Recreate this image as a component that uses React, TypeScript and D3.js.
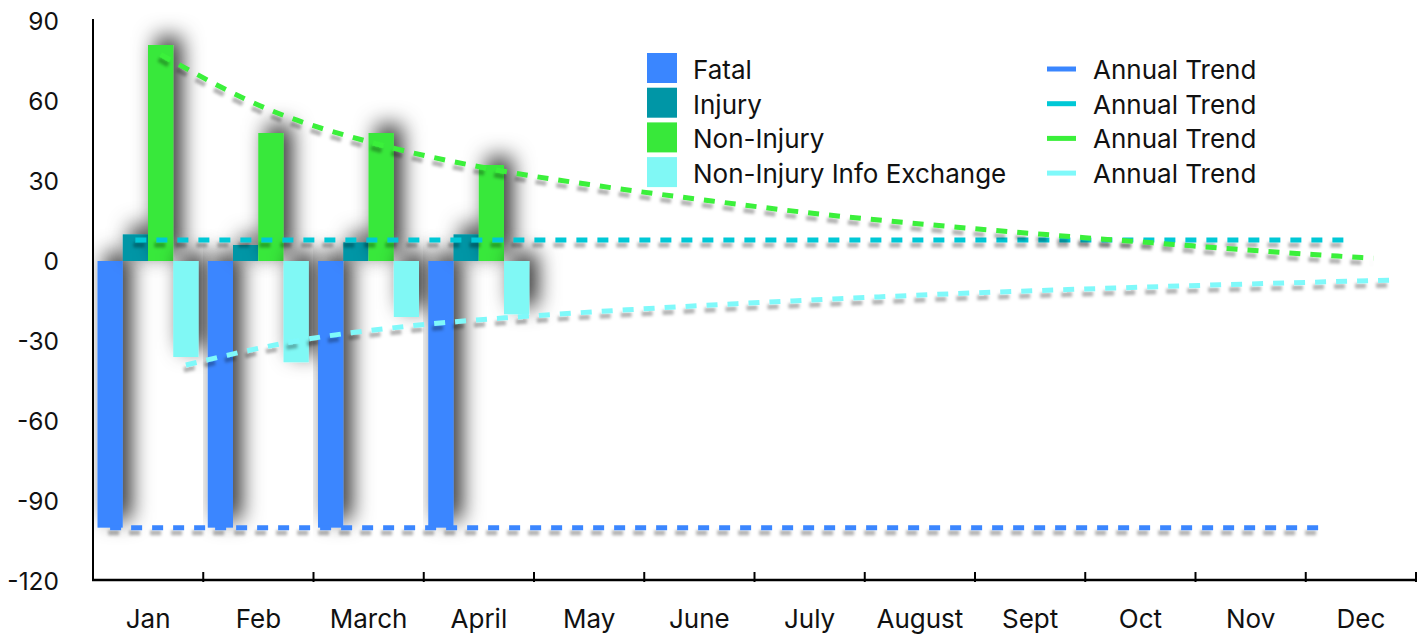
import React from "react";
import * as d3 from "d3";

const months = ["Jan", "Feb", "March", "April", "May", "June", "July", "August", "Sept", "Oct", "Nov", "Dec"];
const seriesNames = ["Fatal", "Injury", "Non-Injury", "Non-Injury Info Exchange"];
const fatal = [-100, -100, -100, -100];
const injury = [10, 6, 7, 10];
const nonInjury = [81, 48, 48, 36];
const infoExchange = [-36, -38, -21, -20];

const fatalTrend = [-100, -100, -100, -100, -100, -100, -100, -100, -100, -100, -100, -100];
const injuryTrend = [7.9, 7.9, 7.9, 7.9, 7.9, 7.9, 7.9, 7.9, 7.9, 7.9, 7.9, 7.9];
const nonInjuryTrend = [77.5, 56.5, 43.5, 34.5, 28, 22.5, 17.5, 13.5, 10, 6.8, 3.7, 1];
const infoTrend = [-39, -30, -24.5, -21, -18.3, -16, -14, -12.2, -10.7, -9.4, -8.2, -7.1];
const trendName = "Annual Trend";
const yTicks = [90, 60, 30, 0, -30, -60, -90, -120];

const barColors = ["#3a86ff", "#0096a6", "#38e83a", "#80f8f5"];
const trendColors = ["#3a86ff", "#00c8d6", "#3af03a", "#7ff9fa"];

const W = 1426;
const H = 635;
const FONT = "Inter, 'Noto Sans', sans-serif";

export default function App() {
  const x0 = d3.scaleBand<string>().domain(months).range([93, 1416]).paddingInner(0).paddingOuter(0);
  const x1 = d3.scaleBand<string>().domain(seriesNames).range([4.5, 105.5]).padding(0);
  const y = d3.scaleLinear().domain([-120, 90]).range([581, 21]);

  const barSeries = [fatal, injury, nonInjury, infoExchange];
  const trendSeries = [fatalTrend, injuryTrend, nonInjuryTrend, infoTrend];

  const line = (sIdx: number) =>
    d3
      .line<number>()
      .x((_, i) => (x0(months[i]) as number) + (x1(seriesNames[sIdx]) as number) + x1.bandwidth() / 2)
      .y((v) => y(v))
      .curve(d3.curveMonotoneX);

  const bw = x1.bandwidth();

  return (
    <svg width={W} height={H} style={{ position: "absolute", left: 0, top: 0, background: "#fff" }}>
      <defs>
        <filter id="barShadow" filterUnits="userSpaceOnUse" x={0} y={0} width={W} height={H}>
          <feDropShadow dx="8" dy="-8" stdDeviation="10.5" floodColor="#000" floodOpacity="0.85" />
        </filter>
        <filter id="lineShadow" filterUnits="userSpaceOnUse" x={0} y={0} width={W} height={H}>
          <feDropShadow dx="-2" dy="5" stdDeviation="1.6" floodColor="#000" floodOpacity="0.3" />
        </filter>
      </defs>

      {/* bars, drawn month by month */}
      {months.slice(0, fatal.length).map((m, mi) => (
        <g key={m} transform={`translate(${x0(m)},0)`}>
          {barSeries.map((arr, si) => {
            const v = arr[mi];
            const yTop = y(Math.max(0, v));
            const yBot = y(Math.min(0, v));
            return (
              <rect
                key={si}
                x={x1(seriesNames[si])}
                y={yTop}
                width={bw}
                height={yBot - yTop}
                fill={barColors[si]}
                filter="url(#barShadow)"
              />
            );
          })}
        </g>
      ))}

      {/* trend lines */}
      {trendSeries.map((arr, si) => (
        <path
          key={si}
          d={line(si)(arr) as string}
          fill="none"
          stroke={trendColors[si]}
          strokeWidth={5}
          strokeDasharray="11 10"
          filter="url(#lineShadow)"
        />
      ))}

      {/* axes */}
      <line x1={93} x2={93} y1={19} y2={581} stroke="#000" strokeWidth={2} />
      <line x1={92} x2={1417} y1={580} y2={580} stroke="#000" strokeWidth={2.5} />
      {months.map((m) => (
        <line
          key={"t" + m}
          x1={(x0(m) as number) + x0.bandwidth()}
          x2={(x0(m) as number) + x0.bandwidth()}
          y1={572}
          y2={582}
          stroke="#000"
          strokeWidth={2}
        />
      ))}
      {months.map((m) => (
        <text
          key={"l" + m}
          x={(x0(m) as number) + x0.bandwidth() / 2}
          y={628}
          textAnchor="middle"
          fontFamily={FONT}
          fontSize={26}
          fill="#111"
        >
          {m}
        </text>
      ))}
      {yTicks.map((t) => (
        <text
          key={"y" + t}
          x={59}
          y={y(t)}
          dy="0.35em"
          textAnchor="end"
          fontFamily={FONT}
          fontSize={24.5}
          fill="#111"
        >
          {t}
        </text>
      ))}

      {/* legend: bars */}
      {seriesNames.map((s, i) => (
        <g key={"lg" + s} transform={`translate(647,${53 + i * 34.7})`}>
          <rect x={0} y={0} width={30} height={30} fill={barColors[i]} />
          <text x={46} y={26} fontFamily={FONT} fontSize={26} fill="#111">
            {s}
          </text>
        </g>
      ))}
      {/* legend: trends */}
      {trendColors.map((c, i) => (
        <g key={"lt" + i} transform={`translate(1047,${53 + i * 34.7})`}>
          <line x1={0} x2={29} y1={16} y2={16} stroke={c} strokeWidth={5} />
          <text x={46} y={26} fontFamily={FONT} fontSize={26} fill="#111">
            {trendName}
          </text>
        </g>
      ))}
    </svg>
  );
}
